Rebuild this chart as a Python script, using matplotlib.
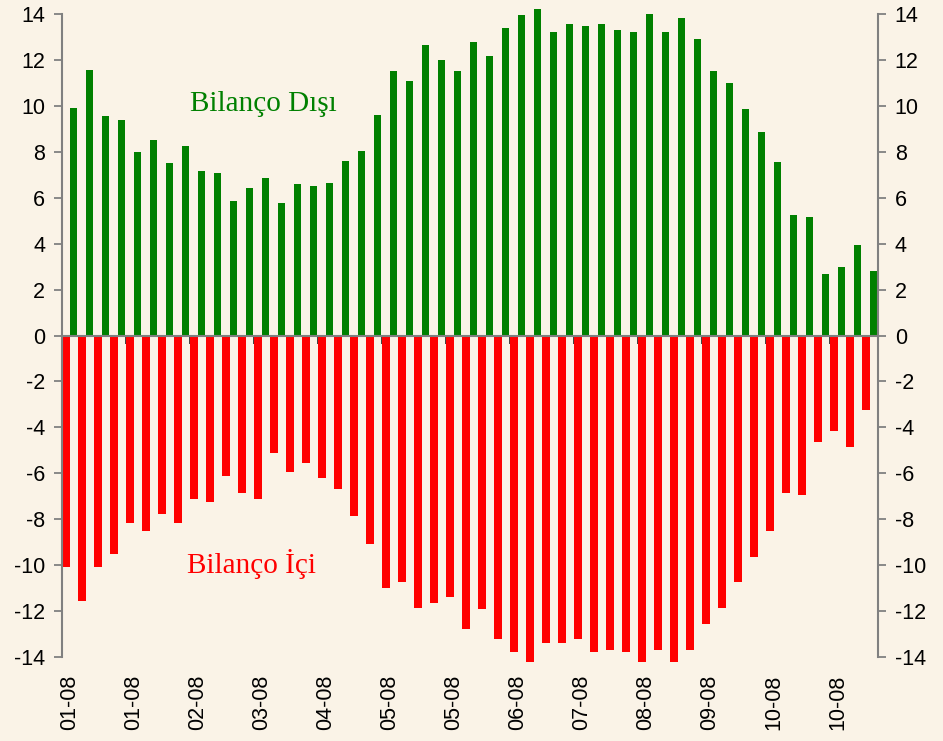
import numpy as np
import matplotlib
matplotlib.use("Agg")
import matplotlib.pyplot as plt
import matplotlib.transforms as mtransforms

# weekly values, 2008
disi = [9.9, 11.57, 9.57, 9.39, 8.0, 8.52, 7.52, 8.26, 7.17, 7.09,
        5.87, 6.43, 6.87, 5.78, 6.61, 6.53, 6.62, 7.62, 8.02, 9.59,
        11.5, 11.07, 12.64, 11.98, 11.5, 12.8, 12.16, 13.38, 13.94, 14.2,
        13.2, 13.55, 13.46, 13.55, 13.29, 13.2, 13.99, 13.2, 13.81, 12.9,
        11.5, 10.98, 9.85, 8.85, 7.54, 5.23, 5.14, 2.66, 3.0, 3.92, 2.83]
ici = [-10.09, -11.58, -10.09, -9.53, -8.18, -8.53, -7.79, -8.18, -7.13, -7.26,
       -6.13, -6.87, -7.13, -5.13, -5.96, -5.56, -6.22, -6.7, -7.87, -9.09,
       -11.01, -10.75, -11.88, -11.66, -11.4, -12.8, -11.93, -13.23, -13.8, -14.2,
       -13.41, -13.41, -13.23, -13.8, -13.71, -13.8, -14.2, -13.71, -14.2, -13.71,
       -12.58, -11.88, -10.75, -9.66, -8.53, -6.87, -6.96, -4.65, -4.17, -4.87, -3.25]
labels = ["01-08", "01-08", "02-08", "03-08", "04-08", "05-08", "05-08",
          "06-08", "07-08", "08-08", "09-08", "10-08", "10-08"]

bg = "#FAF3E7"
gray = "#808080"
plt.rcParams["font.family"] = ["Liberation Sans", "DejaVu Sans"]

fig = plt.figure(figsize=(9.43, 7.41), dpi=100, facecolor=bg)
ax = fig.add_axes([62/943, 84/741, 816/943, 643/741])
ax.set_facecolor(bg)

x = np.arange(len(disi))
ax.bar(x + 0.275, ici, width=0.51, color="#FF0000", zorder=2, clip_on=False)
ax.bar(x + 0.73, disi, width=0.42, color="#008000", zorder=2, clip_on=False)

ax.set_xlim(0, len(disi))
ax.set_ylim(-14, 14)
yt = np.arange(-14, 15, 2)
ax.set_yticks(yt)
ax.set_yticklabels([str(v) for v in yt])
ax.tick_params(axis="y", which="both", direction="out", length=6, width=1.3,
               color=gray, labelsize=15.5, pad=6, left=True, right=True,
               labelleft=True, labelright=True)

ax.spines["top"].set_visible(False)
for s in ["left", "right"]:
    ax.spines[s].set_color(gray)
    ax.spines[s].set_linewidth(1.5)
ax.spines["bottom"].set_position(("data", 0))
ax.spines["bottom"].set_color(gray)
ax.spines["bottom"].set_linewidth(1.5)
ax.spines["bottom"].set_zorder(3)

ax.set_xticks(np.arange(4, len(disi), 4))
ax.set_xticklabels([])
ax.tick_params(axis="x", direction="out", length=6, width=1.3, color="#333333")

trans = mtransforms.blended_transform_factory(ax.transData, ax.transAxes)
for i, lab in enumerate(labels):
    ax.text(i * 4 + 0.5, -0.028, lab, transform=trans, rotation=90,
            ha="center", va="top", fontsize=15.5)

ax.text(8.0, 10.1, "Bilanço Dışı", color="#008000", fontsize=21,
        family=["Liberation Serif", "DejaVu Serif"], ha="left", va="center")
ax.text(7.8, -9.93, "Bilanço İçi", color="#FF0000", fontsize=21,
        family=["Liberation Serif", "DejaVu Serif"], ha="left", va="center")

fig.savefig("out.png", dpi=100, facecolor=bg)
